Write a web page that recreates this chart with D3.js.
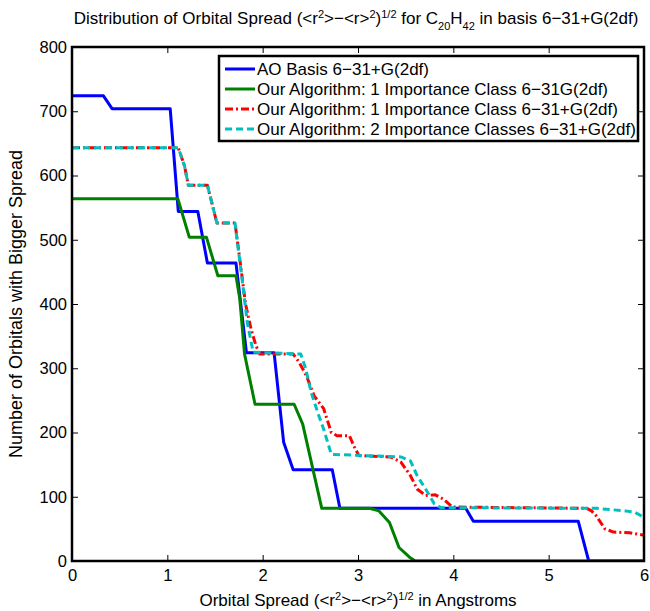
<!DOCTYPE html>
<html>
<head>
<meta charset="utf-8">
<script src="https://cdn.jsdelivr.net/npm/d3@7"></script>
<style>
  body { margin: 0; background: #fff; }
  svg text { font-family: "Liberation Sans", Arial, Helvetica, sans-serif; fill: #000; }
</style>
</head>
<body>
<div id="chart"></div>
<script>
// chart size
var width = 650;
var height = 611;
var margin = {top: 47, right: 6, bottom: 50, left: 72};

// data: [spread in Angstroms, number of orbitals]
var aoBasis = [[0,724],[0.33,724],[0.42,704],[1.03,704],[1.115,544],[1.32,544],[1.42,464],[1.72,464],
  [1.83,324],[2.12,324],[2.22,185],[2.32,142],[2.73,142],[2.81,82],[4.13,82],[4.21,62],[5.31,62],[5.42,0],[6,0]];
var algo1Class631G = [[0,564],[1.11,564],[1.23,504],[1.41,504],[1.53,444],[1.72,444],[1.76,408],[1.81,322],
  [1.92,244],[2.33,244],[2.42,213],[2.62,82],[3.12,82],[3.22,78],[3.33,60],[3.43,21],[3.54,6],[3.6,0],[6,0]];
var algo1Class631pG = [[0,643],[1.115,643],[1.18,615],[1.22,585],[1.42,585],[1.52,526],[1.71,526],[1.76,470],
  [1.82,400],[1.88,360],[1.93,335],[1.97,322],[2.32,322],[2.38,310],[2.46,288],[2.54,257],[2.64,237],[2.72,200],
  [2.78,195],[2.91,195],[2.96,178],[3.01,164],[3.34,162],[3.45,154],[3.55,133],[3.62,112],[3.71,102],[3.81,103],
  [3.9,96],[3.99,84],[5.4,82],[5.45,78],[5.5,70],[5.59,50],[5.68,45],[5.85,44],[6,40]];
var algo2Classes631pG = [[0,643],[1.115,643],[1.18,615],[1.22,585],[1.42,585],[1.52,526],[1.71,526],[1.74,490],
  [1.78,444],[1.84,370],[1.9,325],[2.4,322],[2.45,300],[2.51,262],[2.58,230],[2.64,205],[2.72,166],[3.45,162],
  [3.55,156],[3.62,133],[3.73,107],[3.8,89],[3.87,83],[5.5,82],[5.8,78],[5.9,76],[6,68]];

var seriesNames = [
  "AO Basis 6\u221231+G(2df)",
  "Our Algorithm: 1 Importance Class 6\u221231G(2df)",
  "Our Algorithm: 1 Importance Class 6\u221231+G(2df)",
  "Our Algorithm: 2 Importance Classes 6\u221231+G(2df)"
];
var xTicks = [0, 1, 2, 3, 4, 5, 6];
var yTicks = [0, 100, 200, 300, 400, 500, 600, 700, 800];

var series = [
  {name: seriesNames[0], values: aoBasis, color: "#0000ff", dash: null},
  {name: seriesNames[1], values: algo1Class631G, color: "#008000", dash: null},
  {name: seriesNames[2], values: algo1Class631pG, color: "#ff0000", dash: "8,3,2,3"},
  {name: seriesNames[3], values: algo2Classes631pG, color: "#00bfbf", dash: "7,4"}
];

var innerW = width - margin.left - margin.right;
var innerH = height - margin.top - margin.bottom;

var x = d3.scaleLinear().domain([0, 6]).range([0, innerW]);
var y = d3.scaleLinear().domain([0, 800]).range([innerH, 0]);

var svg = d3.select("#chart")
  .append("svg")
  .attr("width", width)
  .attr("height", height);

var g = svg.append("g")
  .attr("transform", "translate(" + margin.left + "," + margin.top + ")");

g.append("clipPath").attr("id", "plot-clip")
  .append("rect").attr("width", innerW).attr("height", innerH);

// axes with inward ticks, box on all sides
var tickSize = 6;
function styleAxis(sel) {
  sel.select(".domain").remove();
  sel.selectAll("line").attr("stroke", "#000").attr("stroke-width", 1);
  sel.selectAll("text").style("font-size", "16.5px");
}

g.append("g")
  .attr("transform", "translate(0," + innerH + ")")
  .call(d3.axisBottom(x).tickValues(xTicks).tickFormat(d3.format("d"))
    .tickSizeInner(-tickSize).tickSizeOuter(0).tickPadding(8))
  .call(styleAxis);

g.append("g")
  .call(d3.axisLeft(y).tickValues(yTicks).tickFormat(d3.format("d"))
    .tickSizeInner(-tickSize).tickSizeOuter(0).tickPadding(5))
  .call(styleAxis);

g.append("g")
  .call(d3.axisTop(x).tickValues(xTicks).tickSizeInner(-tickSize).tickSizeOuter(0).tickFormat(""))
  .call(styleAxis);

g.append("g")
  .attr("transform", "translate(" + innerW + ",0)")
  .call(d3.axisRight(y).tickValues(yTicks).tickSizeInner(-tickSize).tickSizeOuter(0).tickFormat(""))
  .call(styleAxis);

// lines
var line = d3.line()
  .x(function(d) { return x(d[0]); })
  .y(function(d) { return y(d[1]); });

g.append("g").attr("clip-path", "url(#plot-clip)")
  .selectAll("path")
  .data(series)
  .enter()
  .append("path")
  .attr("d", function(d) { return line(d.values); })
  .attr("fill", "none")
  .attr("stroke", function(d) { return d.color; })
  .attr("stroke-width", 3)
  .attr("stroke-dasharray", function(d) { return d.dash; })
  .attr("stroke-linejoin", "round");

// axes box
g.append("rect")
  .attr("width", innerW)
  .attr("height", innerH)
  .attr("fill", "none")
  .attr("stroke", "#000")
  .attr("stroke-width", 2.5);

// legend
var legend = svg.append("g").attr("transform", "translate(219,56)");
legend.append("rect")
  .attr("width", 419)
  .attr("height", 85)
  .attr("fill", "#fff")
  .attr("stroke", "#000")
  .attr("stroke-width", 2.5);

var items = legend.selectAll(".item")
  .data(series)
  .enter()
  .append("g")
  .attr("class", "item")
  .attr("transform", function(d, i) { return "translate(0," + (13 + i * 20) + ")"; });

items.append("line")
  .attr("x1", 6).attr("x2", 36)
  .attr("stroke", function(d) { return d.color; })
  .attr("stroke-width", 3)
  .attr("stroke-dasharray", function(d) { return d.dash; });

items.append("text")
  .attr("x", 38)
  .attr("dy", "0.36em")
  .style("font-size", "17px")
  .text(function(d) { return d.name; });

// title
var title = svg.append("text")
  .attr("x", 356)
  .attr("y", 24)
  .attr("text-anchor", "middle")
  .style("font-size", "17px");
title.append("tspan").text("Distribution of Orbital Spread (<r");
title.append("tspan").attr("baseline-shift", "super").style("font-size", "11px").text("2");
title.append("tspan").text(">\u2212<r>");
title.append("tspan").attr("baseline-shift", "super").style("font-size", "11px").text("2");
title.append("tspan").text(")");
title.append("tspan").attr("baseline-shift", "super").style("font-size", "11px").text("1/2");
title.append("tspan").text(" for C");
title.append("tspan").attr("baseline-shift", "sub").style("font-size", "11px").text("20");
title.append("tspan").text("H");
title.append("tspan").attr("baseline-shift", "sub").style("font-size", "11px").text("42");
title.append("tspan").text(" in basis 6\u221231+G(2df)");

// x label
var xLabel = svg.append("text")
  .attr("x", margin.left + innerW / 2)
  .attr("y", 606)
  .attr("text-anchor", "middle")
  .style("font-size", "17px");
xLabel.append("tspan").text("Orbital Spread (<r");
xLabel.append("tspan").attr("baseline-shift", "super").style("font-size", "11px").text("2");
xLabel.append("tspan").text(">\u2212<r>");
xLabel.append("tspan").attr("baseline-shift", "super").style("font-size", "11px").text("2");
xLabel.append("tspan").text(")");
xLabel.append("tspan").attr("baseline-shift", "super").style("font-size", "11px").text("1/2");
xLabel.append("tspan").text(" in Angstroms");

// y label
svg.append("text")
  .attr("transform", "translate(22," + (margin.top + innerH / 2) + ") rotate(-90)")
  .attr("text-anchor", "middle")
  .style("font-size", "18px")
  .text("Number of Orbitals with Bigger Spread");
</script>
</body>
</html>
